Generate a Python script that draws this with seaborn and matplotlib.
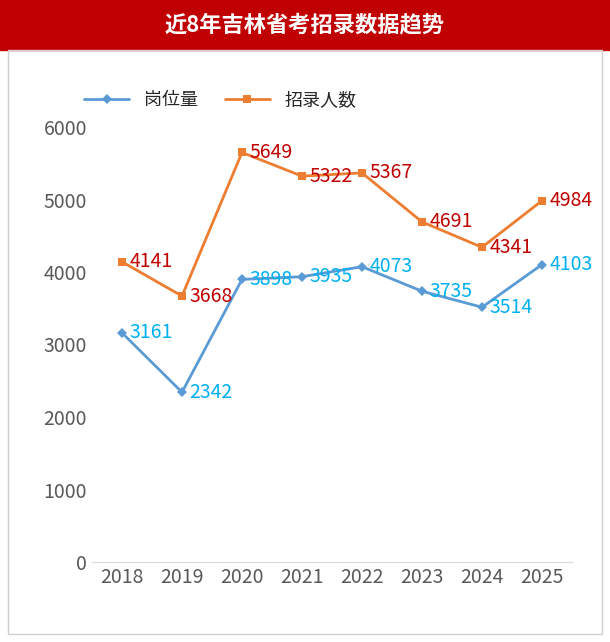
import matplotlib
matplotlib.use('Agg')
import matplotlib.pyplot as plt
import seaborn as sns
import pandas as pd
from matplotlib.patches import Rectangle
from matplotlib import font_manager as fm

sns.set_style('white')
# find a CJK sans font file
cjk = sorted(f for f in fm.findSystemFonts() if 'CJK' in f and 'Sans' in f)
fname = 'Noto Sans CJK SC'
if cjk:
    reg = [f for f in cjk if 'Regular' in f] or cjk
    fm.fontManager.addfont(reg[0])
    fname = fm.FontProperties(fname=reg[0]).get_name()
plt.rcParams['font.family'] = [fname, 'DejaVu Sans']

# Data
years = ['2018', '2019', '2020', '2021', '2022', '2023', '2024', '2025']
posts = [3161, 2342, 3898, 3935, 4073, 3735, 3514, 4103]
hires = [4141, 3668, 5649, 5322, 5367, 4691, 4341, 4984]

df = pd.DataFrame({'year': years, 'posts': posts, 'hires': hires})
df['x'] = range(len(df))

fig = plt.figure(figsize=(6.1, 6.42), dpi=100)

# title bar
fig.patches.append(Rectangle((0, 1 - 50 / 642), 1, 50 / 642, transform=fig.transFigure,
                             color='#c00000', zorder=0))
fig.text(0.5, 1 - 25 / 642, '近8年吉林省考招录数据趋势', color='white', fontsize=16,
         fontweight='bold', ha='center', va='center')
fig.patches.append(Rectangle((8 / 610, 8 / 642), 1 - 16 / 610, 1 - 58 / 642, transform=fig.transFigure,
                             fill=False, edgecolor='#d0d0d0', lw=1))

ax = fig.add_axes([92 / 610, 1 - 562 / 642, 480 / 610, 435 / 642])
sns.lineplot(data=df, x='x', y='posts', ax=ax, color='#5b9bd5', marker='D', markersize=5,
             markeredgewidth=0, linewidth=2, label='岗位量')
sns.lineplot(data=df, x='x', y='hires', ax=ax, color='#ed7d31', marker='s', markersize=6,
             markeredgewidth=0, linewidth=2, label='招录人数')

for x, v in zip(df['x'], df['posts']):
    ax.text(x + 0.12, v, str(v), color='#00b0f0', fontsize=14, va='center', ha='left')
for x, v in zip(df['x'], df['hires']):
    ax.text(x + 0.12, v, str(v), color='#c00000', fontsize=14, va='center', ha='left')

ax.set_xlim(-0.5, 7.5)
ax.set_ylim(0, 6000)
ax.set_xticks(df['x'])
ax.set_xticklabels(years)
ax.set_yticks(range(0, 6001, 1000))
ax.tick_params(axis='both', colors='#595959', labelsize=14, length=0)
ax.set_xlabel('')
ax.set_ylabel('')
for s in ['top', 'right', 'left']:
    ax.spines[s].set_visible(False)
ax.spines['bottom'].set_color('#d9d9d9')
ax.legend(loc='upper left', bbox_to_anchor=(-0.05, 1.12), ncol=2, frameon=False,
          fontsize=13, handlelength=2.5, columnspacing=1.5)

fig.savefig('out.png', dpi=100)
